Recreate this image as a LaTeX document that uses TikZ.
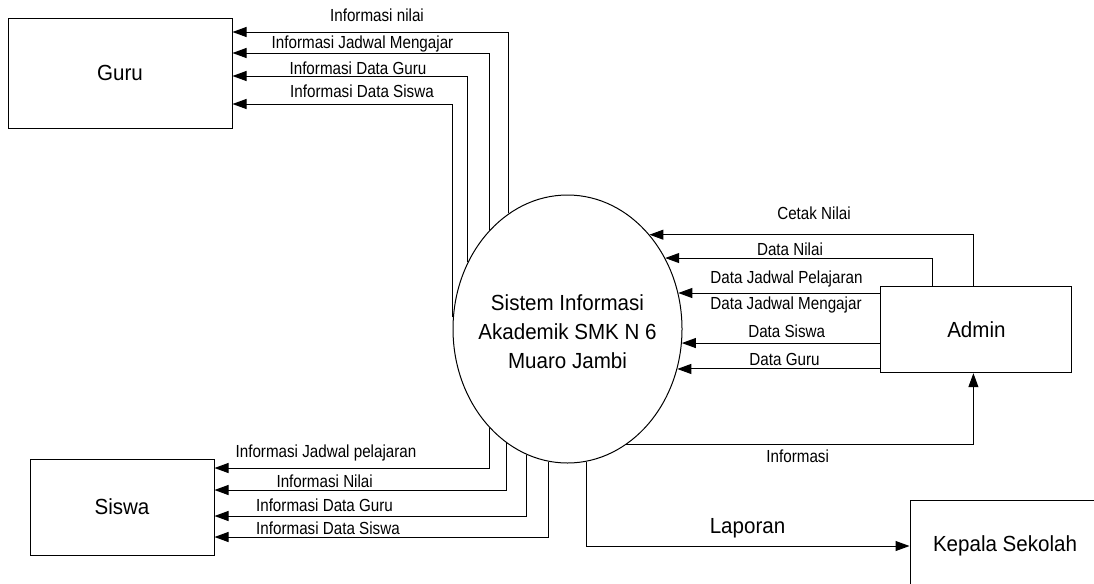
\documentclass[tikz,border=0pt]{standalone}
\usepackage{fontspec}
\newfontfamily\lblfont[FakeStretch=0.87]{Liberation Sans}
\newfontfamily\boxfont[FakeStretch=0.94]{Liberation Sans}
\usetikzlibrary{arrows.meta,shapes.geometric,calc}
\tikzset{
  entity/.style={draw,rectangle,line width=0.75pt,inner sep=0pt,font=\boxfont\fontsize{16.4}{20}\selectfont},
  process/.style={draw,ellipse,line width=0.75pt,inner sep=0pt,minimum width=171.75pt,minimum height=201pt},
  flow/.style={line width=0.75pt,-{Triangle[length=10.5pt,width=7.5pt]}},
  lbl/.style={anchor=base,inner sep=0pt,font=\lblfont\fontsize{13.1}{15}\selectfont},
}

\begin{document}
\begin{tikzpicture}[x=0.75pt,y=-0.75pt]
	\useasboundingbox (0,0) rectangle (1094,583);
	\clip (0,0) rectangle (1094,583);
	\node at (120,73)[entity,minimum width=168pt,minimum height=82.5pt] (guru) {Guru};
	\node at (122,507)[entity,minimum width=138pt,minimum height=72pt] (siswa) {Siswa};
	\node at (976.4,329.7)[entity,minimum width=143.25pt,minimum height=64.5pt] (admin) {Admin};
	\node at (1005,546)[entity,minimum width=142.5pt,minimum height=69pt] (kepala) {Kepala Sekolah};
	\node at (567.5,329)[process] (sia) {};
	\node at (sia.center)[yshift=-2pt,align=center,font=\boxfont\fontsize{16.4}{22}\selectfont] (siatext) {Sistem Informasi\\Akademik SMK N 6\\Muaro Jambi};
	\coordinate (g1) at ($(guru.east)+(0,-41)$);
	\coordinate (g2) at ($(guru.east)+(0,-20)$);
	\coordinate (g3) at ($(guru.east)+(0,3)$);
	\coordinate (g4) at ($(guru.east)+(0,31)$);
	\coordinate (s1) at ($(siswa.east)+(0,-39)$);
	\coordinate (s2) at ($(siswa.east)+(0,-17)$);
	\coordinate (s3) at ($(siswa.east)+(0,9)$);
	\coordinate (s4) at ($(siswa.east)+(0,30)$);
	\draw[flow] (sia.117.5) |- (g1);
	\draw[flow] (sia.128.8) |- (g2);
	\draw[flow] (sia.146.4) |- (g3);
	\draw[flow] (sia.174) |- (g4);
	\draw[flow] (sia.232.4) |- (s1);
	\draw[flow] (sia.242.3) |- (s2);
	\draw[flow] (sia.252.6) |- (s3);
	\draw[flow] (sia.262.25) |- (s4);
	\draw[flow] ($(admin.north)+(-3,0)$) |- (sia.49.7);
	\draw[flow] ($(admin.north)+(-44,0)$) |- (sia.36.1);
	\draw[flow] (admin.west |- sia.18.3) -- (sia.18.3);
	\draw[flow] (admin.west |- sia.-7.5) -- (sia.-7.5);
	\draw[flow] (admin.west |- sia.-20.7) -- (sia.-20.7);
	\draw[flow] (sia.-63.7) -| ($(admin.south)+(-3,0)$);
	\draw[flow] (sia.-82) |- (kepala.west);
	\node at (377,21)[lbl] (gnilai) {Informasi nilai};
	\node at (362.5,48)[lbl] (gjadwal) {Informasi Jadwal Mengajar};
	\node at (358,74.5)[lbl] (gguru) {Informasi Data Guru};
	\node at (362,97)[lbl] (gsiswa) {Informasi Data Siswa};
	\node at (814,219)[lbl] (acetak) {Cetak Nilai};
	\node at (790,255)[lbl] (anilai) {Data Nilai};
	\node at (786.5,283)[lbl] (apel) {Data Jadwal Pelajaran};
	\node at (786,309)[lbl] (ameng) {Data Jadwal Mengajar};
	\node at (786.7,337)[lbl] (asiswa) {Data Siswa};
	\node at (784.5,365)[lbl] (aguru) {Data Guru};
	\node at (326,457)[lbl] (sjadwal) {Informasi Jadwal pelajaran};
	\node at (324.7,487)[lbl] (snilai) {Informasi Nilai};
	\node at (324.5,511)[lbl] (sguru) {Informasi Data Guru};
	\node at (328,534)[lbl] (ssiswa) {Informasi Data Siswa};
	\node at (797.7,462)[lbl] (ainfo) {Informasi};
	\node at (747.5,533)[lbl,font=\boxfont\fontsize{16.4}{20}\selectfont] (lapor) {Laporan};
\end{tikzpicture}
\end{document}
